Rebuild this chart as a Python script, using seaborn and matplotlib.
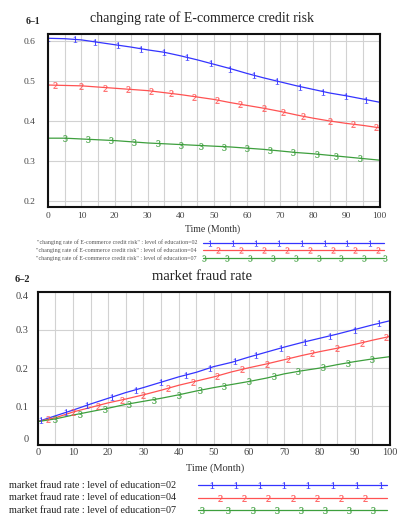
import numpy as np
import pandas as pd
import matplotlib
matplotlib.use("Agg")
import matplotlib.pyplot as plt
import seaborn as sns

# ---------------- data ----------------
months = list(range(0, 101, 5))

credit_edu02 = [0.607, 0.606, 0.603, 0.597, 0.591, 0.585, 0.578, 0.572, 0.563, 0.553, 0.542,
                0.531, 0.519, 0.508, 0.498, 0.488, 0.479, 0.470, 0.463, 0.455, 0.447]
credit_edu04 = [0.490, 0.489, 0.488, 0.485, 0.482, 0.479, 0.476, 0.471, 0.466, 0.460, 0.454,
                0.446, 0.439, 0.432, 0.424, 0.415, 0.407, 0.400, 0.394, 0.389, 0.383]
credit_edu07 = [0.357, 0.357, 0.355, 0.353, 0.351, 0.348, 0.345, 0.343, 0.341, 0.339, 0.337,
                0.335, 0.332, 0.329, 0.325, 0.321, 0.318, 0.314, 0.310, 0.306, 0.302]

fraud_edu02 = [0.060, 0.075, 0.090, 0.106, 0.121, 0.136, 0.149, 0.163, 0.177, 0.189, 0.204,
               0.215, 0.229, 0.242, 0.255, 0.267, 0.278, 0.289, 0.301, 0.313, 0.324]
fraud_edu04 = [0.060, 0.070, 0.085, 0.097, 0.109, 0.119, 0.130, 0.142, 0.155, 0.166, 0.177,
               0.190, 0.201, 0.211, 0.222, 0.233, 0.243, 0.252, 0.262, 0.273, 0.283]
fraud_edu07 = [0.060, 0.067, 0.077, 0.086, 0.095, 0.105, 0.113, 0.121, 0.130, 0.140, 0.149,
               0.157, 0.165, 0.174, 0.185, 0.193, 0.200, 0.209, 0.217, 0.224, 0.230]

series_names = ["level of education=02", "level of education=04", "level of education=07"]
title_top = "changing rate of E-commerce credit risk"
title_bottom = "market fraud rate"
panel_top = "6\u20131"
panel_bottom = "6\u20132"
xlabel = "Time (Month)"
top_yticks = [0.2, 0.3, 0.4, 0.5, 0.6]
bottom_yticks = [0.0, 0.1, 0.2, 0.3, 0.4]
bottom_yticklabels = ["0", "0.1", "0.2", "0.3", "0.4"]
xticks = list(range(0, 101, 10))

# ---------------- style ----------------
colors = ["#3434ff", "#ff5252", "#3d9f3d"]
digits = ["1", "2", "3"]

sns.set_style("white")
plt.rcParams['font.family'] = ['Liberation Serif', 'DejaVu Serif']
plt.rcParams['mathtext.fontset'] = 'custom'
plt.rcParams['mathtext.rm'] = 'Liberation Serif'
plt.rcParams['mathtext.it'] = 'Liberation Serif'

W, H = 399, 516
fig = plt.figure(figsize=(W / 100, H / 100), dpi=100)


def frac(l, t, r, b):
    return [l / W, 1 - b / H, (r - l) / W, (b - t) / H]


ax1 = fig.add_axes(frac(48.3, 33.5, 379.5, 207.3))
ax2 = fig.add_axes(frac(37.7, 291.7, 390.0, 444.5))

top_marker_months = [
    [0, 8, 14, 21, 28, 35, 42, 49, 55, 62, 69, 76, 83, 90, 96],
    [2, 10, 17, 24, 31, 37, 44, 51, 58, 65, 71, 77, 85, 92, 99],
    [5, 12, 19, 26, 33, 40, 46, 53, 60, 67, 74, 81, 87, 94],
]
bottom_marker_months = [
    [1, 8, 14, 21, 28, 35, 42, 49, 56, 62, 69, 76, 83, 90, 97],
    [3, 10, 17, 24, 30, 37, 44, 51, 58, 65, 71, 78, 85, 92, 99],
    [5, 12, 19, 26, 33, 40, 46, 53, 60, 67, 74, 81, 88, 95],
]


def draw(ax, vals, marker_months, ylim, yticks, yticklabels, ylabelsize, ypad, xpad, xlabelsize):
    df = pd.DataFrame({
        "month": months * 3,
        "value": vals[0] + vals[1] + vals[2],
        "series": sum([[s] * len(months) for s in series_names], []),
    })
    sns.lineplot(data=df, x="month", y="value", hue="series", palette=colors,
                 ax=ax, legend=False, lw=0.9)
    for i in range(3):
        mm = np.array(marker_months[i], dtype=float)
        yy = np.interp(mm, months, vals[i])
        ax.plot(mm, yy, ls="none", marker=f"${digits[i]}$", ms=4.6, color=colors[i],
                markeredgewidth=0.15)
    ax.set_xlim(0, 100)
    ax.set_ylim(*ylim)
    ax.set_xticks(xticks)
    ax.set_xticks(list(range(5, 100, 10)), minor=True)
    ax.set_yticks(yticks)
    ax.set_yticklabels(yticklabels)
    ax.grid(True, which="both", axis="x", color="#d2d2d2", lw=0.8)
    ax.grid(True, which="major", axis="y", color="#d2d2d2", lw=0.8)
    ax.set_xlabel("")
    ax.set_ylabel("")
    ax.tick_params(axis="both", which="both", length=0, labelcolor="#444444")
    ax.tick_params(axis="y", labelsize=ylabelsize, pad=ypad)
    ax.tick_params(axis="x", labelsize=xlabelsize, pad=xpad)
    for s in ax.spines.values():
        s.set_visible(True)
        s.set_color("#111111")
        s.set_linewidth(1.5)


draw(ax1, [credit_edu02, credit_edu04, credit_edu07], top_marker_months,
     (0.184, 0.619), top_yticks, ["0.2", "0.3", "0.4", "0.5", "0.6"], 6.8, 9.5, 3.5, 6.8)
draw(ax2, [fraud_edu02, fraud_edu04, fraud_edu07], bottom_marker_months,
     (0.0, 0.4), bottom_yticks, bottom_yticklabels, 7.5, 6.3, 2.5, 7.5)

labs = ax2.get_yticklabels()
labs[0].set_va("bottom")
labs[-1].set_va("top")

# titles, panel labels, axis labels
fig.text(202 / W, 1 - 18 / H, title_top, ha="center", va="center", fontsize=10, color="#222222")
fig.text(202 / W, 1 - 276 / H, title_bottom, ha="center", va="center", fontsize=10.5, color="#222222")
fig.text(33 / W, 1 - 21.5 / H, panel_top, ha="center", va="center", fontsize=7, fontweight="bold")
fig.text(22 / W, 1 - 279 / H, panel_bottom, ha="center", va="center", fontsize=7.5, fontweight="bold")
fig.text(213 / W, 1 - 229.5 / H, xlabel, ha="center", va="center", fontsize=7, color="#333333")
fig.text(215 / W, 1 - 468.5 / H, xlabel, ha="center", va="center", fontsize=7.5, color="#333333")

# ---------------- legends (drawn) ----------------
lg = fig.add_axes([0, 0, 1, 1])
lg.set_xlim(0, W)
lg.set_ylim(H, 0)
lg.axis("off")
lg.patch.set_alpha(0)

top_rows = [242.5, 250.0, 257.7]
top_leg_marks = [
    [210, 233, 256, 279, 302, 325, 347, 370],
    [218, 241, 264, 287, 310, 333, 355, 378],
    [204, 227, 250, 273, 296, 319, 341, 364, 385],
]
for i in range(3):
    y = top_rows[i]
    lg.text(197, y, f'"{title_top}" : {series_names[i]}', ha="right", va="center",
            fontsize=4.3, color="#555555")
    lg.plot([203, 384], [y, y], color=colors[i], lw=0.9)
    lg.plot(top_leg_marks[i], [y] * len(top_leg_marks[i]), ls="none",
            marker=f"${digits[i]}$", ms=4.3, color=colors[i], markeredgewidth=0.15)

bot_rows = [485.3, 497.7, 510.3]
bot_leg_marks = [
    [212, 236, 260, 284, 308, 333, 357, 381],
    [220, 244, 268, 293, 317, 341, 365],
    [202, 228, 253, 277, 301, 325, 349, 373],
]
for i in range(3):
    y = bot_rows[i]
    lg.text(9, y, f"{title_bottom} : {series_names[i]}", ha="left", va="center",
            fontsize=7.3, color="#222222")
    lg.plot([198, 387], [y, y], color=colors[i], lw=0.9)
    lg.plot(bot_leg_marks[i], [y] * len(bot_leg_marks[i]), ls="none",
            marker=f"${digits[i]}$", ms=4.8, color=colors[i], markeredgewidth=0.15)

fig.savefig("out.png", dpi=100, facecolor="white")
